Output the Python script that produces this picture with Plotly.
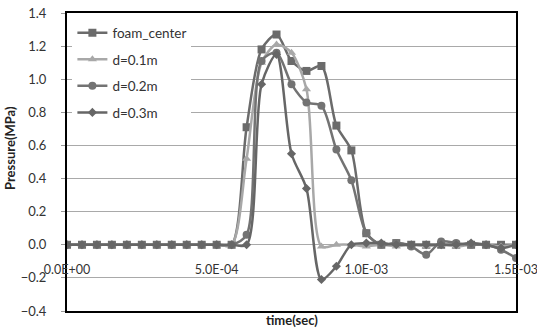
import plotly.graph_objects as go

time_s = [0.0, 5e-05, 1e-04, 1.5e-04, 2e-04, 2.5e-04, 3e-04, 3.5e-04, 4e-04, 4.5e-04,
          5e-04, 5.5e-04, 6e-04, 6.5e-04, 7e-04, 7.5e-04, 8e-04, 8.5e-04, 9e-04, 9.5e-04,
          1e-03, 1.05e-03, 1.1e-03, 1.15e-03, 1.2e-03, 1.25e-03, 1.3e-03, 1.35e-03, 1.4e-03, 1.45e-03, 1.5e-03]

foam_center = [0, 0, 0, 0, 0, 0, 0, 0, 0, 0, 0, 0,
               0.71, 1.18, 1.27, 1.11, 1.05, 1.08, 0.72, 0.57, 0.07,
               0.0, 0.01, 0.0, 0.0, 0.0, 0.0, 0.0, 0.0, 0.0, 0.0]
d_01 = [0, 0, 0, 0, 0, 0, 0, 0, 0, 0, 0, 0,
        0.52, 1.10, 1.21, 1.16, 0.94, -0.01, 0.0, 0.0, -0.01,
        0.0, -0.01, 0.0, -0.01, 0.0, -0.01, 0.0, 0.0, -0.01, 0.0]
d_02 = [0, 0, 0, 0, 0, 0, 0, 0, 0, 0, 0, 0,
        0.06, 1.11, 1.16, 0.97, 0.86, 0.84, 0.575, 0.39, 0.07,
        0.0, 0.01, -0.01, -0.06, 0.02, 0.01, 0.0, 0.0, -0.03, -0.08]
d_03 = [0, 0, 0, 0, 0, 0, 0, 0, 0, 0, 0, 0,
        0.0, 0.97, 1.15, 0.55, 0.34, -0.21, -0.13, 0.0, 0.01,
        0.01, 0.0, 0.0, 0.0, 0.0, 0.0, 0.01, 0.0, -0.02, 0.0]

series_names = ["foam_center", "d=0.1m", "d=0.2m", "d=0.3m"]
series_vals = [foam_center, d_01, d_02, d_03]
colors = ["#6b6b6b", "#a8a8a8", "#737373", "#666666"]
symbols = ["square", "triangle-up", "circle", "diamond"]
msizes = [8, 8, 8, 7]

x_tickvals = [0.0, 5e-04, 1e-03, 1.5e-03]
x_ticktext = ["0.0E+00", "5.0E-04", "1.0E-03", "1.5E-03"]

FONT = "Lato, 'Open Sans', sans-serif"

fig = go.Figure()
for i, (name, vals) in enumerate(zip(series_names, series_vals)):
    fig.add_trace(go.Scatter(
        x=time_s, y=vals, name=name, mode="lines+markers",
        line=dict(color=colors[i], width=2.5, shape="spline", smoothing=0.8),
        marker=dict(symbol=symbols[i], size=msizes[i], color=colors[i]),
        legendgroup=name,
    ))

# invisible helper trace on a mirrored x axis to draw the plot frame
fig.add_trace(go.Scatter(x=[], y=[], xaxis="x2", showlegend=False, hoverinfo="skip"))

fig.update_layout(
    width=537, height=329,
    margin=dict(l=67, r=21, t=13, b=18, autoexpand=False),
    paper_bgcolor="white", plot_bgcolor="white",
    font=dict(family=FONT, size=13, color="#333333"),
    showlegend=True,
    legend=dict(x=0.012, y=0.985, xanchor="left", yanchor="top",
                bgcolor="white", borderwidth=0, tracegroupgap=6,
                font=dict(size=13.5, color="#333333"), itemwidth=30),
    xaxis=dict(range=[0, 1.5e-03], anchor="free", position=0.2222,
               tickvals=x_tickvals, ticktext=x_ticktext, tickfont=dict(size=12.5),
               showgrid=False, zeroline=False, showline=False, ticks="",
               ticklabelstandoff=16, automargin=False, ticklabeloverflow="allow"),
    xaxis2=dict(range=[0, 1.5e-03], overlaying="x", anchor="y",
                showline=True, mirror=True, linecolor="black", linewidth=2,
                showticklabels=False, ticks="", showgrid=False, zeroline=False,
                automargin=False),
    yaxis=dict(range=[-0.4, 1.4], dtick=0.2, tickformat=".1f",
               showgrid=True, gridcolor="#a9a9a9", gridwidth=1,
               zeroline=False, showline=True, mirror=True, linecolor="black", linewidth=2,
               ticks="outside", ticklen=4,
               tickcolor="#999999", ticklabelstandoff=12, automargin=False,
               ticklabeloverflow="allow"),
    annotations=[
        dict(text="<b>time(sec)</b>", xref="paper", yref="paper", x=0.5, y=0,
             yshift=1, xanchor="center", yanchor="top", showarrow=False,
             font=dict(size=13, color="#222222")),
        dict(text="<b>Pressure(MPa)</b>", xref="paper", yref="paper", x=0, y=0.547,
             xshift=-57, textangle=-90, xanchor="center", yanchor="middle",
             showarrow=False, font=dict(size=13, color="#222222")),
    ],
)

fig.write_html("out.html", config={"displayModeBar": False},
               post_script="document.body.style.margin='0px';")
